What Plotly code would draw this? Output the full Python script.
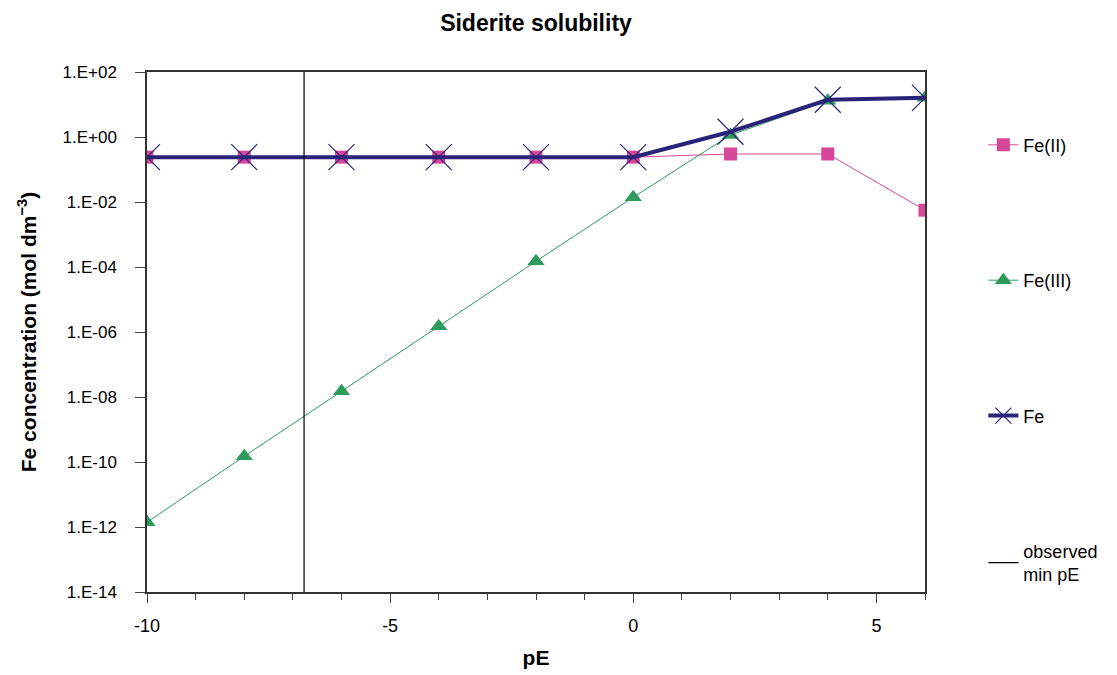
import plotly.graph_objects as go

pE = [-10, -8, -6, -4, -2, 0, 2, 4, 6]
fe2 = [0.24, 0.24, 0.24, 0.24, 0.24, 0.24, 0.30, 0.30, 0.0056]
fe3 = [1.4e-12, 1.5e-10, 1.5e-8, 1.5e-6, 1.5e-4, 0.014, 1.15, 13.0, 16.0]
fe_tot = [0.24, 0.24, 0.24, 0.24, 0.24, 0.24, 1.45, 14.0, 16.0]
min_pE = -6.77
y_range = [1e-14, 1e2]
y_ticks = [1e2, 1, 1e-2, 1e-4, 1e-6, 1e-8, 1e-10, 1e-12, 1e-14]
y_tick_labels = ["1.E+02", "1.E+00", "1.E-02", "1.E-04", "1.E-06", "1.E-08", "1.E-10", "1.E-12", "1.E-14"]
x_ticks = [-10, -5, 0, 5]
x_tick_labels = ["-10", "-5", "0", "5"]
x_minor = [-9, -8, -7, -6, -4, -3, -2, -1, 1, 2, 3, 4, 6]

FONT = "Liberation Sans, Arial, sans-serif"

fig = go.Figure()
fig.add_trace(go.Scatter(
    x=pE, y=fe2, name="Fe(II)", mode="lines+markers", legendgroup="a",
    line=dict(color="#D6479A", width=1),
    marker=dict(symbol="square", size=13, color="#D6479A"),
))
fig.add_trace(go.Scatter(
    x=pE, y=fe3, name="Fe(III)", mode="lines+markers", legendgroup="b",
    line=dict(color="#2E9A5C", width=1),
    marker=dict(symbol="triangle-up", size=15, color="#2E9A5C"),
))
fig.add_trace(go.Scatter(
    x=pE, y=fe_tot, name="Fe", mode="lines+markers", legendgroup="c",
    line=dict(color="#2A237A", width=4),
    marker=dict(symbol="x-thin", size=26, color="#2A237A",
                line=dict(color="#2A237A", width=1.2)),
))
fig.add_trace(go.Scatter(
    x=[min_pE, min_pE], y=y_range, name="observed<br>min pE", mode="lines",
    legendgroup="d", line=dict(color="black", width=1.2),
))

fig.update_layout(
    width=1117, height=675,
    margin=dict(l=147, r=192, t=72, b=83),
    paper_bgcolor="white", plot_bgcolor="white",
    font=dict(family=FONT, color="black", size=17),
    title=dict(text="<b>Siderite solubility</b>", xref="paper", x=0.5, xanchor="center",
               yref="container", y=1 - 23 / 675, yanchor="middle",
               font=dict(size=23, family=FONT)),
    showlegend=True,
    legend=dict(x=1.075, xanchor="left", y=0.895, yanchor="top",
                tracegroupgap=109, font=dict(size=18, family=FONT),
                bgcolor="rgba(0,0,0,0)"),
)
fig.update_xaxes(
    range=[-10, 6], tickvals=x_ticks, ticktext=x_tick_labels, ticks="outside", ticklen=9,
    tickcolor="#444", showgrid=False, zeroline=False, automargin=False,
    showline=True, linecolor="#333", linewidth=1.5, mirror=True,
    minor=dict(tickvals=x_minor, ticks="outside", ticklen=6, tickcolor="#444"),
    tickfont=dict(size=18), ticklabelstandoff=8,
    title=dict(text="<b>pE</b>", font=dict(size=21), standoff=15),
)
fig.update_yaxes(
    type="log", range=[-14, 2], tickvals=y_ticks, ticktext=y_tick_labels,
    ticks="outside", ticklen=10, tickcolor="#444", showgrid=False, zeroline=False,
    automargin=False,
    showline=True, linecolor="#333", linewidth=1.5, mirror=True,
    tickfont=dict(size=17), ticklabelstandoff=15,
    title=dict(text="<b>Fe concentration (mol dm<sup>−3</sup>)</b>", font=dict(size=21), standoff=20),
)

fig.write_html("out.html")
